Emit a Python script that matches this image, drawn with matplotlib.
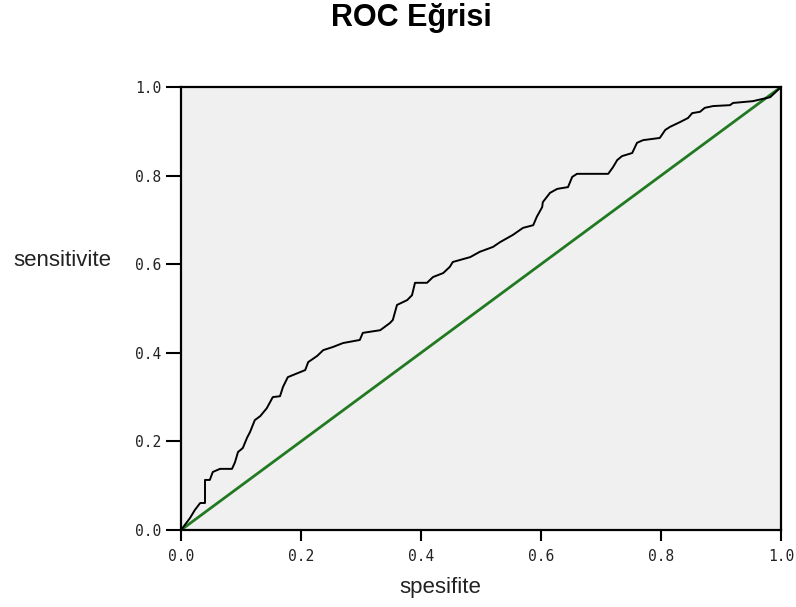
import numpy as np
import matplotlib
matplotlib.use("Agg")
from matplotlib import pyplot as plt

# ROC curve points (1 - specificity, sensitivity)
fpr = [0.0, 0.015, 0.023, 0.032, 0.040, 0.040, 0.048, 0.053, 0.065, 0.085,
       0.090, 0.095, 0.103, 0.110, 0.115, 0.123, 0.132, 0.143, 0.153, 0.165,
       0.170, 0.178, 0.187, 0.207, 0.212, 0.227, 0.237, 0.253, 0.270, 0.298,
       0.303, 0.332, 0.348, 0.353, 0.360, 0.377, 0.385, 0.390, 0.410, 0.420,
       0.437, 0.448, 0.453, 0.482, 0.498, 0.520, 0.532, 0.553, 0.570, 0.587,
       0.593, 0.602, 0.603, 0.615, 0.627, 0.645, 0.652, 0.660, 0.712, 0.720,
       0.727, 0.735, 0.752, 0.760, 0.770, 0.798, 0.807, 0.815, 0.832, 0.845,
       0.852, 0.865, 0.873, 0.887, 0.915, 0.920, 0.953, 0.982, 1.0]
tpr = [0.0, 0.027, 0.045, 0.061, 0.061, 0.113, 0.113, 0.131, 0.138, 0.138,
       0.153, 0.176, 0.185, 0.208, 0.221, 0.248, 0.257, 0.275, 0.300, 0.302,
       0.323, 0.345, 0.350, 0.361, 0.379, 0.393, 0.406, 0.413, 0.422, 0.429,
       0.445, 0.451, 0.467, 0.474, 0.508, 0.519, 0.530, 0.558, 0.558, 0.571,
       0.580, 0.594, 0.605, 0.616, 0.628, 0.639, 0.650, 0.666, 0.682, 0.688,
       0.707, 0.729, 0.740, 0.761, 0.770, 0.774, 0.797, 0.804, 0.804, 0.819,
       0.835, 0.844, 0.851, 0.874, 0.880, 0.885, 0.903, 0.910, 0.921, 0.930,
       0.941, 0.944, 0.953, 0.957, 0.959, 0.964, 0.968, 0.977, 1.0]
ref_line = [0.0, 1.0]
ticks = [0.0, 0.2, 0.4, 0.6, 0.8, 1.0]
tick_labels = ['0.0', '0.2', '0.4', '0.6', '0.8', '1.0']

fig = plt.figure(figsize=(7.96, 6.07), dpi=100)
ax = fig.add_axes([181/796, 77/607, 600/796, 443/607])
ax.set_facecolor('#f0f0f0')

ax.plot(ref_line, ref_line, color='#217a21', linewidth=2.0)
ax.plot(fpr, tpr, color='black', linewidth=1.4)

ax.set_xlim(0, 1)
ax.set_ylim(0, 1)
ax.set_xticks(ticks)
ax.set_yticks(ticks)
ax.set_xticklabels(tick_labels, family='DejaVu Sans Mono', fontsize=10.5, color='#222222')
ax.set_yticklabels(tick_labels, family='DejaVu Sans Mono', fontsize=10.5, color='#222222')
ax.tick_params(axis='y', length=11, width=1.5, pad=3, direction='out')
ax.tick_params(axis='x', length=8, width=1.5, pad=6, direction='out')
for s in ax.spines.values():
    s.set_linewidth(1.6)
    s.set_color('black')

fig.text(411/796, 1 - 18/607, 'ROC Eğrisi', family='Liberation Sans', fontsize=22,
         fontweight='bold', ha='center', va='center')
fig.text(62/796, 1 - 260/607, 'sensitivite', family='Liberation Sans', fontsize=16,
         ha='center', va='center', color='#222222')
fig.text(440/796, 1 - 587/607, 'spesifite', family='Liberation Sans', fontsize=16,
         ha='center', va='center', color='#222222')

fig.savefig('out.png', dpi=100)
